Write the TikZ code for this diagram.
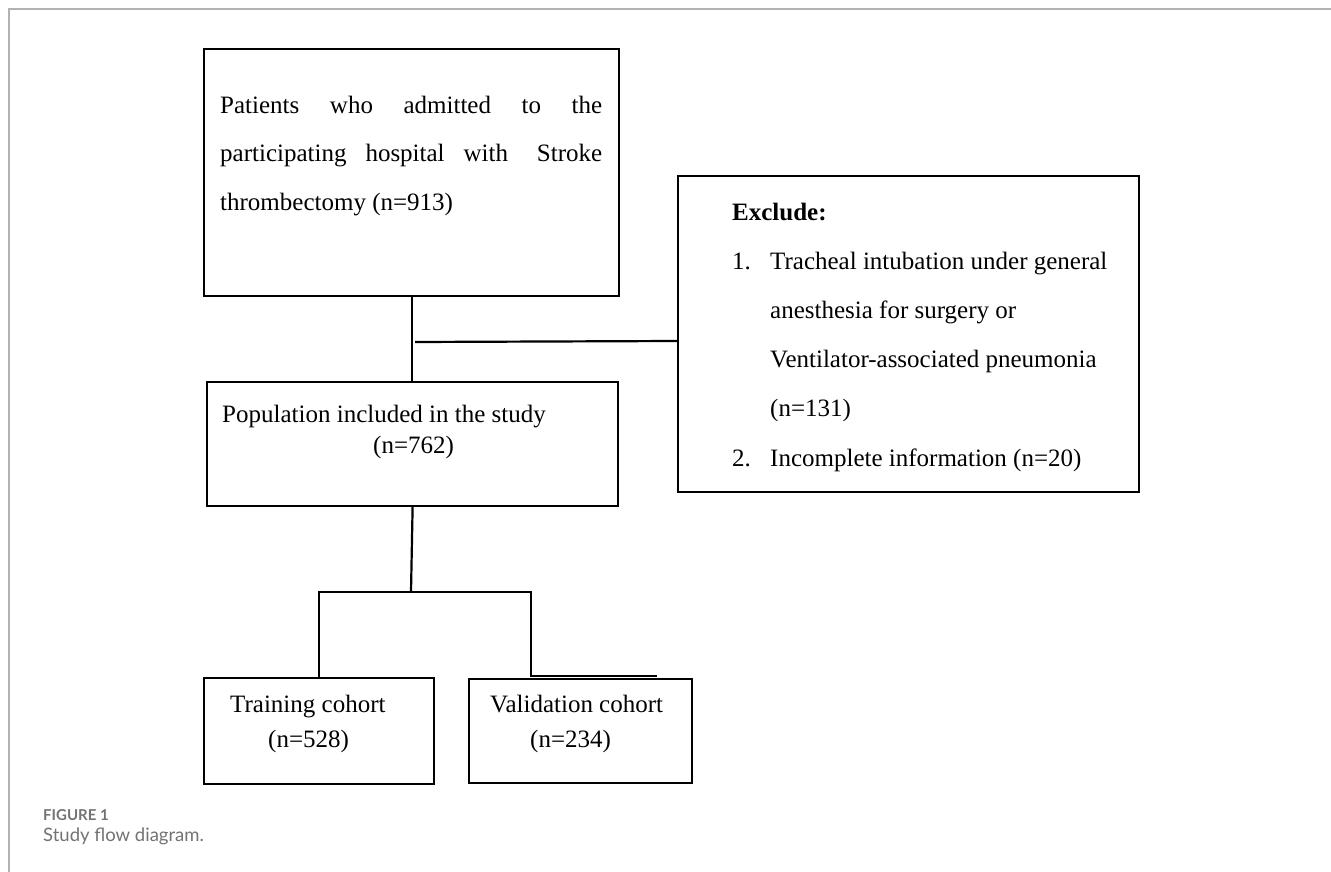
\documentclass[tikz,border=0pt]{standalone}
\usepackage{fontspec}
\setmainfont{Liberation Serif}
\newfontfamily\capfont{Lato}
\begin{document}
\begin{tikzpicture}[x=1pt,y=-1pt,
  box/.style={draw=black, line width=2.2pt, inner sep=0pt, anchor=north west},
  conn/.style={draw=black, line width=2.2pt},
  txt/.style={inner sep=0pt, anchor=base west, font=\fontsize{25}{30}\selectfont},
  frame/.style={draw=black!30, line width=1.4pt},
  caphead/.style={inner sep=0pt, anchor=base west, text=black!55, font=\capfont\bfseries\fontsize{15}{18}\selectfont},
  captxt/.style={inner sep=0pt, anchor=base west, text=black!55, font=\capfont\fontsize{18.5}{22}\selectfont}]
\useasboundingbox (0,0) rectangle (1331,872);
\fill[white] (0,0) rectangle (1331,872);
\draw[frame] (1331,9) -- (9,9) -- (9,872);

% boxes
\node[box, minimum width=415pt, minimum height=247pt] (top) at (203,48) {};
\node[box, minimum width=461pt, minimum height=316pt] (excl) at (677,175) {};
\node[box, minimum width=411pt, minimum height=124pt] (pop) at (206,381) {};
\node[box, minimum width=230pt, minimum height=106pt] (train) at (203,677) {};
\node[box, minimum width=223pt, minimum height=104pt] (valid) at (468,678) {};

% texts
\node[txt] (t1) at (220,114) {\makebox[382pt][s]{Patients who admitted to the}};
\node[txt] (t2) at (220,162) {\makebox[382pt][s]{participating hospital with\hspace{10pt} Stroke}};
\node[txt] (t3) at (220,210) {thrombectomy (n=913)};

\node[txt, font=\bfseries\fontsize{25}{30}\selectfont] (e0) at (732,220) {Exclude:};
\node[txt] (e1n) at (732,269) {1.};
\node[txt] (e1) at (770,269) {Tracheal intubation under general};
\node[txt] (e2) at (770,318) {anesthesia for surgery or};
\node[txt] (e3) at (770,367) {Ventilator-associated pneumonia};
\node[txt] (e4) at (770,416) {(n=131)};
\node[txt] (e5n) at (732,466) {2.};
\node[txt] (e5) at (770,466) {Incomplete information (n=20)};

\node[txt] (p1) at (222,422) {Population included in the study};
\node[txt] (p2) at (373,453) {(n=762)};

\node[txt] (tr1) at (230,712) {Training cohort};
\node[txt] (tr2) at (268,747) {(n=528)};
\node[txt] (v1) at (490,712) {Validation cohort};
\node[txt] (v2) at (530,747) {(n=234)};

% connectors
\coordinate (bj) at (415,342);
\coordinate (bj2) at (677,341);
\coordinate (split) at (411,592);
\coordinate (vt) at (531,592);
\coordinate (vb) at (531,676);
\coordinate (ve) at (657,676);
\draw[conn] (top.south) -- (top.south |- pop.north);
\draw[conn] (bj) -- (bj2);
\draw[conn] (pop.south) -- (split);
\draw[conn] (train.north) |- (vt) -- (vb) -- (ve);

% caption
\node[caphead] (c1) at (43,820) {FIGURE 1};
\node[captxt] (c2) at (43,841) {Study flow diagram.};
\end{tikzpicture}
\end{document}
